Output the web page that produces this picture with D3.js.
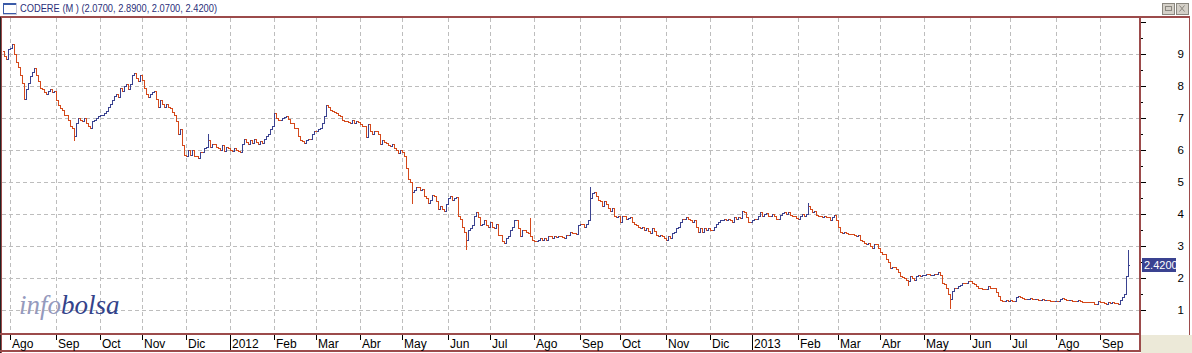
<!DOCTYPE html>
<html>
<head>
<meta charset="utf-8">
<script src="https://cdn.jsdelivr.net/npm/d3@7"></script>
<style>
  html, body { margin: 0; padding: 0; background: #fff; }
  svg { display: block; }
</style>
</head>
<body>
<div id="chart"></div>
<script>
//
// CODERE daily bars, 27 Jul 2011 .. 20 Sep 2013
// closes, one array per month (one value per weekday)
//
var jul11 = [8.95, 8.85, 9.15];
var aug11 = [9.2, 9.3, 9.0, 8.75, 8.6, 8.35, 8.1, 7.6, 7.9, 8.1, 8.3, 8.45, 8.55, 8.35, 8.15, 7.95, 7.9, 7.8, 7.75, 7.85, 7.9, 7.8, 7.85];
var sep11 = [7.55, 7.4, 7.3, 7.25, 7.1, 7.1, 6.95, 6.75, 6.7, 6.45, 6.85, 7.0, 6.95, 6.9, 7.0, 6.85, 6.75, 6.7, 6.9, 6.95, 7.0, 7.05];
var oct11 = [7.08, 7.1, 7.15, 7.22, 7.35, 7.45, 7.55, 7.7, 7.75, 7.65, 7.95, 7.85, 8.0, 8.05, 7.9, 8.05, 8.35, 8.4, 8.25, 8.15, 8.35];
var nov11 = [8.2, 7.95, 7.75, 7.65, 7.75, 7.8, 7.85, 7.6, 7.35, 7.55, 7.45, 7.35, 7.45, 7.35, 7.3, 7.2, 7.1, 6.9, 6.5, 6.65, 6.15, 5.85];
var dec11 = [5.8, 6.0, 5.85, 6.0, 5.8, 5.8, 5.75, 5.95, 5.95, 6.05, 6.1, 6.3, 6.1, 6.2, 6.2, 6.1, 6.05, 6.0, 6.15, 5.98, 6.1, 6.05];
var jan12 = [6.0, 5.98, 6.05, 6.0, 5.98, 5.95, 6.2, 6.35, 6.25, 6.2, 6.3, 6.22, 6.35, 6.25, 6.2, 6.28, 6.22, 6.35, 6.45, 6.5, 6.65, 6.75];
var feb12 = [7.15, 7.0, 6.95, 6.95, 7.0, 7.02, 7.05, 6.98, 6.85, 6.85, 6.7, 6.7, 6.45, 6.3, 6.27, 6.22, 6.3, 6.35, 6.33, 6.5, 6.6];
var mar12 = [6.58, 6.65, 6.7, 6.85, 7.05, 7.4, 7.35, 7.25, 7.22, 7.2, 7.15, 7.1, 7.05, 6.95, 6.9, 6.9, 6.88, 6.85, 6.95, 6.85, 6.92, 6.88];
var apr12 = [6.8, 6.75, 6.75, 6.4, 6.8, 6.6, 6.5, 6.6, 6.6, 6.5, 6.2, 6.3, 6.25, 6.22, 6.15, 6.12, 6.2, 6.05, 6.0, 5.9, 6.0];
var may12 = [5.95, 5.8, 5.45, 5.1, 5.0, 4.7, 4.75, 4.85, 4.85, 4.75, 4.78, 4.55, 4.5, 4.35, 4.45, 4.6, 4.55, 4.4, 4.15, 4.25, 4.15, 4.1, 4.3];
var jun12 = [4.5, 4.55, 4.45, 4.5, 4.52, 3.95, 3.85, 3.6, 3.45, 3.2, 3.5, 3.55, 3.65, 3.95, 4.05, 3.9, 3.65, 3.7, 3.8, 3.65, 3.6];
var jul12 = [3.75, 3.6, 3.55, 3.7, 3.35, 3.35, 3.15, 3.1, 3.25, 3.3, 3.5, 3.6, 3.8, 3.82, 3.55, 3.3, 3.5, 3.5, 3.45, 3.4, 3.3, 3.2];
var aug12 = [3.15, 3.15, 3.2, 3.25, 3.2, 3.25, 3.2, 3.3, 3.3, 3.25, 3.3, 3.28, 3.32, 3.3, 3.28, 3.25, 3.35, 3.35, 3.45, 3.42, 3.4, 3.38, 3.65];
var sep12 = [3.7, 3.7, 3.6, 3.7, 3.8, 4.5, 4.65, 4.7, 4.55, 4.45, 4.4, 4.25, 4.4, 4.3, 4.2, 4.1, 4.2, 3.95, 3.9, 3.95];
var oct12 = [3.75, 3.95, 3.95, 3.85, 3.88, 3.9, 3.75, 3.7, 3.65, 3.6, 3.55, 3.6, 3.5, 3.55, 3.48, 3.42, 3.55, 3.48, 3.35, 3.3, 3.35, 3.3, 3.25];
var nov12 = [3.2, 3.3, 3.25, 3.4, 3.45, 3.55, 3.6, 3.75, 3.85, 3.85, 3.9, 3.85, 3.8, 3.75, 3.8, 3.6, 3.45, 3.55, 3.45, 3.55, 3.5, 3.55];
var dec12 = [3.5, 3.5, 3.6, 3.7, 3.75, 3.8, 3.82, 3.85, 3.8, 3.85, 3.8, 3.75, 3.9, 3.85, 3.92, 3.88, 4.1, 4.05, 3.9, 3.75, 3.75];
var jan13 = [3.8, 3.85, 3.85, 3.95, 4.05, 3.95, 4.0, 4.02, 3.95, 3.95, 4.0, 3.95, 3.85, 3.85, 3.98, 4.02, 4.05, 4.0, 4.05, 3.98, 3.95, 3.95, 3.88];
var feb13 = [3.85, 3.95, 4.0, 3.95, 4.0, 4.25, 4.15, 4.05, 4.1, 3.98, 3.95, 3.95, 3.9, 3.95, 3.92, 3.9, 3.8, 3.92, 3.97, 3.8];
var mar13 = [3.6, 3.45, 3.4, 3.45, 3.4, 3.38, 3.38, 3.38, 3.35, 3.32, 3.35, 3.2, 3.15, 3.1, 3.05, 3.1, 3.0, 2.95, 3.05, 3.05, 2.95];
var apr13 = [2.8, 2.75, 2.75, 2.6, 2.5, 2.3, 2.35, 2.35, 2.28, 2.2, 2.05, 2.02, 2.0, 1.95, 1.9, 2.05, 2.0, 1.95, 2.05, 2.1, 2.05, 2.08];
var may13 = [2.1, 2.12, 2.12, 2.08, 2.1, 2.12, 2.12, 2.2, 2.1, 1.85, 1.8, 1.7, 1.5, 1.35, 1.6, 1.7, 1.68, 1.75, 1.78, 1.85, 1.85, 1.85, 1.9];
var jun13 = [1.9, 1.85, 1.82, 1.75, 1.7, 1.68, 1.65, 1.65, 1.65, 1.75, 1.7, 1.7, 1.68, 1.55, 1.45, 1.3, 1.28, 1.27, 1.3, 1.27];
var jul13 = [1.3, 1.28, 1.27, 1.4, 1.45, 1.4, 1.36, 1.35, 1.33, 1.35, 1.38, 1.33, 1.33, 1.35, 1.32, 1.32, 1.34, 1.3, 1.32, 1.3, 1.29, 1.28, 1.28];
var aug13 = [1.29, 1.27, 1.35, 1.38, 1.33, 1.3, 1.3, 1.32, 1.29, 1.28, 1.28, 1.3, 1.27, 1.26, 1.26, 1.26, 1.25, 1.24, 1.24, 1.2, 1.2, 1.27];
var sep13 = [1.25, 1.24, 1.23, 1.2, 1.25, 1.22, 1.26, 1.23, 1.22, 1.2, 1.3, 1.4, 1.5, 2.07, 2.42];

var monthKeys = ["jul11","aug11","sep11","oct11","nov11","dec11","jan12","feb12","mar12","apr12","may12","jun12",
                 "jul12","aug12","sep12","oct12","nov12","dec12","jan13","feb13","mar13","apr13","may13","jun13",
                 "jul13","aug13","sep13"];
var monthData = [jul11, aug11, sep11, oct11, nov11, dec11, jan12, feb12, mar12, apr12, may12, jun12,
                 jul12, aug12, sep12, oct12, nov12, dec12, jan13, feb13, mar13, apr13, may13, jun13,
                 jul13, aug13, sep13];

var firstOpen = 9.1;

// intraday extremes that reach past open/close: [month, day index, low, high]
var wicks = [
	["sep11", 9, 6.3, null],
	["dec11", 11, null, 6.5],
	["may12", 5, 4.33, null],
	["jun12", 9, 2.9, null],
	["jul12", 20, null, 3.86],
	["sep12", 5, null, 4.85],
	["feb13", 5, null, 4.35],
	["apr13", 14, 1.78, null],
	["may13", 13, 1.05, null],
	["sep13", 14, null, 2.89]
];

var monthNames = ["Ene","Feb","Mar","Abr","May","Jun","Jul","Ago","Sep","Oct","Nov","Dic"];
var yLabels = [1, 2, 3, 4, 5, 6, 7, 8, 9];
var yTickValues = [1, 1.5, 2, 2.5, 3, 3.5, 4, 4.5, 5, 5.5, 6, 6.5, 7, 7.5, 8, 8.5, 9, 9.5, 10];

var BLUE = "#3a4290", RED = "#d4491b", FRAME = "#9c4b4b", GRID = "#bdbdbd";
var W = 1192, H = 353;

//
// build the bars, walking weekdays from the first date
//
var bars = [];
var day = new Date(2011, 6, 27);
var prev = firstOpen;
monthData.forEach(function(arr, m) {
	arr.forEach(function(c, k) {
		while (day.getDay() === 0 || day.getDay() === 6) day.setDate(day.getDate() + 1);
		bars.push({date: new Date(day), key: monthKeys[m], k: k,
			open: prev, close: c, high: Math.max(prev, c), low: Math.min(prev, c)});
		prev = c;
		day.setDate(day.getDate() + 1);
	});
});
wicks.forEach(function(w) {
	var b = bars.find(function(d) { return d.key === w[0] && d.k === w[1]; });
	if (!b) return;
	if (w[2] != null) b.low = Math.min(b.low, w[2]);
	if (w[3] != null) b.high = Math.max(b.high, w[3]);
});
var last = bars[bars.length - 1];

//
// scales
//
var x = d3.scaleLinear().domain([0, bars.length - 1]).range([4, 4 + 2 * (bars.length - 1)]);
var y = d3.scaleLinear().domain([1, 9]).range([310, 54]);

var svg = d3.select("#chart").append("svg")
	.attr("width", W)
	.attr("height", H)
	.style("font-family", "'Liberation Sans', Arial, sans-serif");

svg.append("rect").attr("width", W).attr("height", H).attr("fill", "#fff");

//
// title bar
//
var fmt = d3.format(".4f");
svg.append("text")
	.attr("x", 20).attr("y", 12)
	.style("font-size", "10.5px")
	.attr("fill", "#2b2f7a")
	.attr("textLength", 197)
	.attr("lengthAdjust", "spacingAndGlyphs")
	.text("CODERE (M ) (" + fmt(last.open) + ", " + fmt(last.high) + ", " + fmt(last.low) + ", " + fmt(last.close) + ")");

var icon = svg.append("g").attr("shape-rendering", "crispEdges");
icon.append("rect").attr("x", 3).attr("y", 3).attr("width", 13).attr("height", 11).attr("fill", "#fff").attr("stroke", "#c8c8d8");
icon.append("rect").attr("x", 3).attr("y", 3).attr("width", 13).attr("height", 2).attr("fill", "#3a5aa8");
icon.append("rect").attr("x", 3).attr("y", 3).attr("width", 1).attr("height", 11).attr("fill", "#3a5aa8");
icon.append("rect").attr("x", 3).attr("y", 13).attr("width", 13).attr("height", 1).attr("fill", "#3a5aa8");

// window buttons
[1162, 1176].forEach(function(bx, i) {
	var b = svg.append("g").attr("shape-rendering", "crispEdges");
	b.append("rect").attr("x", bx).attr("y", 3).attr("width", 12).attr("height", 11).attr("fill", "#d4d0c8")
		.attr("stroke", "#8a877f").attr("stroke-width", 1);
	if (i === 0) {
		b.append("rect").attr("x", bx + 3).attr("y", 6).attr("width", 6).attr("height", 4)
			.attr("fill", "none").attr("stroke", "#8a877f");
	} else {
		b.append("path").attr("d", "M" + (bx + 3.5) + ",5.5L" + (bx + 8.5) + ",11.5M" + (bx + 8.5) + ",5.5L" + (bx + 3.5) + ",11.5")
			.attr("stroke", "#8a877f").attr("shape-rendering", "auto");
	}
});

//
// grid
//
var monthStarts = [];
bars.forEach(function(d, i) {
	if (i > 0 && d.date.getMonth() !== bars[i - 1].date.getMonth()) monthStarts.push(i);
});

var grid = svg.append("g").attr("shape-rendering", "crispEdges")
	.attr("stroke", GRID).attr("stroke-dasharray", "4,3");
grid.selectAll(".hg").data(yLabels).enter().append("line")
	.attr("x1", 2).attr("x2", 1139)
	.attr("y1", function(d) { return Math.round(y(d)) + 0.5; })
	.attr("y2", function(d) { return Math.round(y(d)) + 0.5; });
grid.selectAll(".vg").data(monthStarts).enter().append("line")
	.attr("y1", 18).attr("y2", 333)
	.attr("x1", function(i) { return x(i) + 0.5; })
	.attr("x2", function(i) { return x(i) + 0.5; });

//
// watermark
//
var wm = svg.append("text")
	.attr("x", 19).attr("y", 314)
	.style("font-family", "'Liberation Serif', 'DejaVu Serif', serif")
	.style("font-style", "italic")
	.style("font-size", "27px");
wm.append("tspan").attr("fill", "#959abd").text("info");
wm.append("tspan").attr("fill", "#34438a").text("bolsa");

//
// OHLC bars
//
var barG = svg.append("g").attr("shape-rendering", "crispEdges");
var bar = barG.selectAll("g").data(bars).enter().append("g")
	.attr("fill", function(d) { return d.close > d.open ? BLUE : RED; });
bar.append("rect")
	.attr("x", function(d, i) { return x(i); })
	.attr("y", function(d) { return Math.round(y(d.high)); })
	.attr("width", 1)
	.attr("height", function(d) { return Math.max(1, Math.round(y(d.low)) - Math.round(y(d.high)) + 1); });
bar.append("rect")
	.attr("x", function(d, i) { return x(i) - 1; })
	.attr("y", function(d) { return Math.round(y(d.open)); })
	.attr("width", 1).attr("height", 1);
bar.append("rect")
	.attr("x", function(d, i) { return x(i) + 1; })
	.attr("y", function(d) { return Math.round(y(d.close)); })
	.attr("width", 1).attr("height", 1);

//
// frame
//
var frame = svg.append("g").attr("shape-rendering", "crispEdges");
frame.append("rect").attr("x", 0).attr("y", 16).attr("width", 1190).attr("height", 2).attr("fill", FRAME);
frame.append("rect").attr("x", 0).attr("y", 17).attr("width", 1).attr("height", 336).attr("fill", "#222");
frame.append("rect").attr("x", 1).attr("y", 17).attr("width", 1).attr("height", 336).attr("fill", FRAME);
frame.append("rect").attr("x", 1139).attr("y", 17).attr("width", 2).attr("height", 335).attr("fill", FRAME);
frame.append("rect").attr("x", 1189).attr("y", 17).attr("width", 1).attr("height", 318).attr("fill", FRAME);
frame.append("rect").attr("x", 0).attr("y", 333).attr("width", 1141).attr("height", 2).attr("fill", FRAME);
frame.append("rect").attr("x", 0).attr("y", 350).attr("width", 1141).attr("height", 2).attr("fill", FRAME);
frame.append("rect").attr("x", 1141).attr("y", 335).attr("width", 51).attr("height", 18).attr("fill", "#ece9d8");

//
// right axis
//
var yAxis = svg.append("g").attr("shape-rendering", "crispEdges");
yAxis.selectAll("line").data(yTickValues).enter().append("line")
	.attr("x1", 1141)
	.attr("x2", function(d) { return d % 1 === 0 ? 1146 : 1143; })
	.attr("y1", function(d) { return Math.round(y(d)) + 0.5; })
	.attr("y2", function(d) { return Math.round(y(d)) + 0.5; })
	.attr("stroke", "#000");
yAxis.selectAll("text").data(yLabels).enter().append("text")
	.attr("x", 1184)
	.attr("y", function(d) { return y(d) + 4; })
	.attr("text-anchor", "end")
	.style("font-size", "11.5px")
	.attr("fill", "#000")
	.text(function(d) { return d; });

// last value marker
var ly = Math.round(y(last.close));
svg.append("rect").attr("x", 1142).attr("y", ly - 7).attr("width", 34).attr("height", 14)
	.attr("fill", "#3a4290").attr("shape-rendering", "crispEdges");
svg.append("text").attr("x", 1144).attr("y", ly + 4)
	.style("font-size", "11px").attr("fill", "#fff")
	.text(fmt(last.close));

//
// bottom axis: month ticks and labels
//
var xAxis = svg.append("g").attr("shape-rendering", "crispEdges");
monthStarts.forEach(function(i) {
	var d = bars[i].date, xi = x(i);
	var isYear = d.getMonth() === 0;
	xAxis.append("line")
		.attr("x1", xi + 0.5).attr("x2", xi + 0.5)
		.attr("y1", 335).attr("y2", isYear ? 350 : 340)
		.attr("stroke", "#000");
	xAxis.append("text")
		.attr("x", xi + 2).attr("y", 348)
		.style("font-size", "12px")
		.attr("fill", "#000")
		.text(isYear ? d.getFullYear() : monthNames[d.getMonth()]);
});
</script>
</body>
</html>
